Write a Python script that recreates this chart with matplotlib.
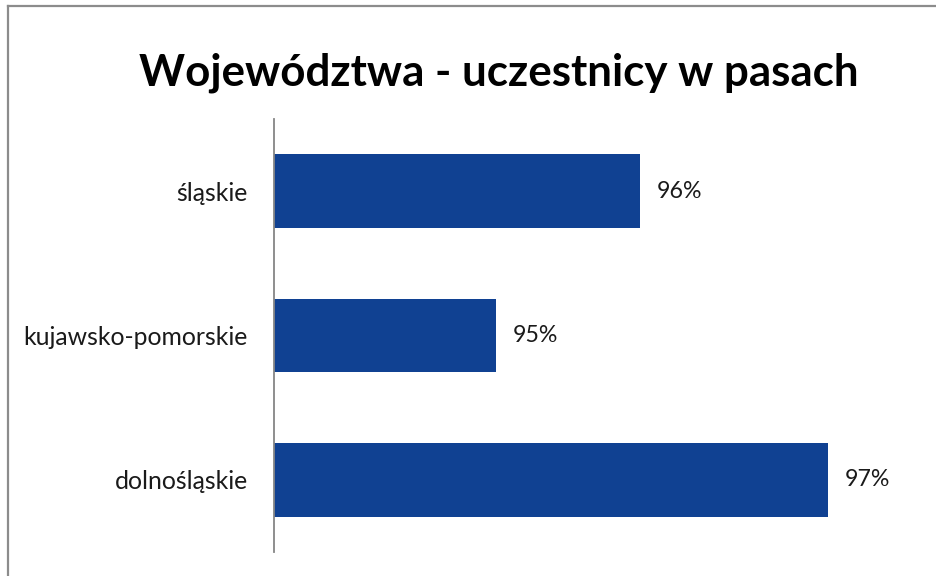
import matplotlib
matplotlib.use("Agg")
import matplotlib.pyplot as plt
from matplotlib.lines import Line2D

categories = ["dolnośląskie", "kujawsko-pomorskie", "śląskie"]
values = [0.9667, 0.9501, 0.9573]
title = "Województwa - uczestnicy w pasach"

W, H = 936, 576
fig = plt.figure(figsize=(W / 100, H / 100), dpi=100)
plt.rcParams['font.family'] = ['Lato', 'DejaVu Sans']

# frame (top and left edges visible)
fig.add_artist(Line2D([8 / W, 8 / W], [0, 1 - 6 / H], transform=fig.transFigure,
                      color='#8c8c8c', lw=1.6))
fig.add_artist(Line2D([8 / W, 1], [1 - 6 / H, 1 - 6 / H], transform=fig.transFigure,
                      color='#8c8c8c', lw=1.6))

left, right, top, bottom = 274, 900, 119, 552
ax = fig.add_axes([left / W, 1 - bottom / H, (right - left) / W, (bottom - top) / H])

xmin = 0.939
xmax = xmin + (right - left) / 20000
ypos = list(range(len(categories)))
ax.barh(ypos, [v - xmin for v in values], left=xmin, height=0.51, color='#104192')
ax.set_xlim(xmin, xmax)
ax.set_ylim(-0.5, len(categories) - 0.5)

for y, v in zip(ypos, values):
    ax.text(v + 0.00085, y, f"{round(v * 100):.0f}%", va='center', ha='left',
            fontsize=16.7, color='#1a1a1a')

ax.set_yticks(ypos)
ax.set_yticklabels(categories, fontsize=17.8, color='#1a1a1a')
ax.tick_params(axis='y', length=0, pad=18.7)
ax.set_xticks([])
for s in ['top', 'right', 'bottom']:
    ax.spines[s].set_visible(False)
ax.spines['left'].set_color('#868686')
ax.spines['left'].set_linewidth(1.3)

fig.text(499 / W, 1 - 73 / H, title, ha='center', va='center', fontsize=31.6,
         fontweight='bold', color='#000000')

fig.savefig("out.png", dpi=100, facecolor='white')
